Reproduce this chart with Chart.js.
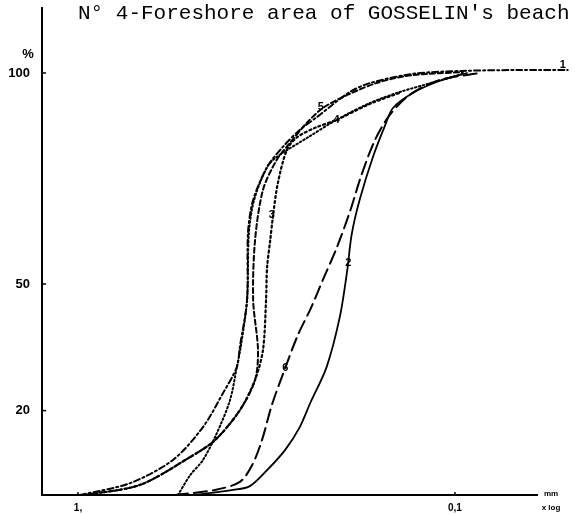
<!DOCTYPE html>
<html>
<head>
<meta charset="utf-8">
<script src="https://cdn.jsdelivr.net/npm/chart.js@4.4.0/dist/chart.umd.min.js"></script>
<style>
body { margin: 0; background: #fff; }
canvas { display: block; }
</style>
</head>
<body>
<canvas id="grain-chart" width="576" height="515"></canvas>
<script>
// grain size in mm (log axis, coarse on the left) and cumulative weight in %
var size1 = [0.988, 0.728, 0.560, 0.466, 0.412, 0.379, 0.372, 0.356, 0.354, 0.343, 0.315, 0.286, 0.258, 0.232, 0.190, 0.168, 0.129, 0.0953, 0.0672, 0.0502];
var pct1 = [0, 2.8, 8.3, 16.1, 24.2, 30.3, 35.1, 46.2, 62.1, 69.9, 77.7, 82.5, 86.5, 89.6, 95.5, 97.6, 99.8, 100.5, 100.7, 100.7];

var size2 = [0.489, 0.388, 0.350, 0.315, 0.282, 0.258, 0.242, 0.219, 0.202, 0.193, 0.188, 0.179, 0.165, 0.153, 0.146, 0.129, 0.110, 0.0929];
var pct2 = [0, 1.2, 2.1, 5.9, 10.7, 16.1, 21.8, 30.3, 42.2, 53.3, 61.6, 69.9, 80.1, 87.7, 91.7, 95.3, 98.1, 100];

var size3 = [0.958, 0.685, 0.504, 0.433, 0.372, 0.339, 0.323, 0.317, 0.315, 0.309, 0.304, 0.295, 0.279, 0.262, 0.235, 0.206, 0.168, 0.140];
var pct3 = [0, 2.4, 9.0, 13.0, 20.1, 27.3, 34.4, 46.2, 54.0, 60.4, 65.9, 73.9, 81.8, 84.8, 87.0, 88.9, 92.7, 95.3];

var size4 = [0.543, 0.504, 0.466, 0.428, 0.395, 0.379, 0.370, 0.356, 0.352, 0.341, 0.315, 0.297, 0.247, 0.206, 0.168, 0.140, 0.116, 0.0953];
var pct4 = [0, 4.7, 8.3, 14.7, 22.5, 30.3, 35.1, 46.2, 62.1, 69.9, 77.7, 80.1, 84.6, 88.9, 92.9, 95.5, 97.6, 99.8];

var size5 = [0.958, 0.685, 0.504, 0.433, 0.372, 0.339, 0.333, 0.343, 0.339, 0.323, 0.297, 0.274, 0.247, 0.224, 0.193, 0.158, 0.129, 0.0953];
var pct5 = [0, 2.4, 9.0, 13.0, 20.1, 27.3, 34.4, 46.2, 60.4, 72.3, 79.4, 83.4, 88.2, 91.7, 94.8, 97.9, 99.5, 100.2];

var size6 = [0.553, 0.433, 0.372, 0.345, 0.325, 0.306, 0.282, 0.261, 0.241, 0.223, 0.206, 0.190, 0.177, 0.163, 0.149, 0.132, 0.110, 0.0858];
var pct6 = [0, 1.2, 3.1, 7.1, 13.0, 21.3, 30.1, 37.9, 44.3, 51.4, 58.5, 67.1, 75.8, 84.1, 90.0, 94.8, 98.3, 100];

var curveNames = ["1", "2", "3", "4", "5", "6"];
var yTicks = [20, 50, 100];
var xTicks = [1, 0.1];
var xTickLabels = ["1,", "0,1"];
var titleText = "N° 4-Foreshore area of GOSSELIN's beach";

var xMin = 0.0489, xMax = 1.246, xAxisEnd = 0.0602;

function toPoints(sizes, pcts) {
	var pts = [];
	for (var i = 0; i < sizes.length; i++) {
		pts.push({ x: sizes[i], y: pcts[i] });
	}
	return pts;
}

function curve(sizes, pcts, dash, width, tagIndex, tagDx, tagDy) {
	return {
		data: toPoints(sizes, pcts),
		borderColor: "#000",
		borderWidth: width,
		borderDash: dash,
		borderCapStyle: "round",
		pointRadius: 0,
		tension: 0.3,
		fill: false,
		tagIndex: tagIndex,
		tagDx: tagDx,
		tagDy: tagDy
	};
}

function noPadding(scale) {
	scale.paddingTop = 0;
	scale.paddingBottom = 0;
	scale.paddingLeft = 0;
	scale.paddingRight = 0;
}

// axis lines, small ticks, curve numbers and the typed heading
var decorations = {
	id: "decorations",
	afterDraw: function(chart) {
		var ctx = chart.ctx;
		var area = chart.chartArea;
		var xs = chart.scales.x;
		var ys = chart.scales.y;
		ctx.save();
		ctx.strokeStyle = "#000";
		ctx.fillStyle = "#000";

		ctx.lineWidth = 2;
		ctx.beginPath();
		ctx.moveTo(area.left, area.bottom);
		ctx.lineTo(xs.getPixelForValue(xAxisEnd), area.bottom);
		ctx.stroke();

		ctx.lineWidth = 1.5;
		yTicks.forEach(function(v) {
			var py = ys.getPixelForValue(v);
			ctx.beginPath();
			ctx.moveTo(area.left, py);
			ctx.lineTo(area.left + 4, py);
			ctx.stroke();
		});
		xTicks.forEach(function(v) {
			var px = xs.getPixelForValue(v);
			ctx.beginPath();
			ctx.moveTo(px, area.bottom);
			ctx.lineTo(px, area.bottom - 3);
			ctx.stroke();
		});

		ctx.font = "bold 11px 'Liberation Sans'";
		ctx.textAlign = "center";
		ctx.textBaseline = "middle";
		chart.data.datasets.forEach(function(ds, i) {
			var pt = chart.getDatasetMeta(i).data[ds.tagIndex];
			ctx.fillText(curveNames[i], pt.x + ds.tagDx, pt.y + ds.tagDy);
		});

		ctx.font = "bold 13px 'Liberation Sans'";
		ctx.fillText("%", 28, 54);
		ctx.font = "bold 8px 'Liberation Sans'";
		ctx.fillText("mm", 551, 494);
		ctx.fillText("x log", 551, 508);

		ctx.font = "21px 'Liberation Mono'";
		ctx.textAlign = "left";
		ctx.textBaseline = "alphabetic";
		ctx.fillText(titleText, 78, 19);
		ctx.restore();
	}
};

var chart = new Chart(document.getElementById("grain-chart"), {
	type: "line",
	data: {
		datasets: [
			curve(size1, pct1, [6, 3, 2, 3], 2, 19, -5, -5),
			curve(size2, pct2, [], 1.8, 9, 1, -7),
			curve(size3, pct3, [2, 3], 2.2, 10, -1, -2),
			curve(size4, pct4, [1.5, 2.5], 2, 13, 0, 0),
			curve(size5, pct5, [5, 3], 2, 13, -2, -1),
			curve(size6, pct6, [13, 6], 2, 6, 0, 0)
		]
	},
	options: {
		responsive: false,
		animation: false,
		layout: { padding: { top: 8, right: 4, left: 0, bottom: 0 } },
		plugins: {
			legend: { display: false },
			tooltip: { enabled: false },
			title: { display: false }
		},
		scales: {
			x: {
				type: "logarithmic",
				reverse: true,
				min: xMin,
				max: xMax,
				grid: { display: false, drawTicks: false },
				border: { display: false },
				afterBuildTicks: function(scale) {
					scale.ticks = xTicks.map(function(v) { return { value: v }; });
				},
				afterFit: function(scale) {
					scale.height = 20;
					noPadding(scale);
				},
				ticks: {
					color: "#000",
					padding: 7,
					maxRotation: 0,
					autoSkip: false,
					font: { family: "'Liberation Sans'", size: 10, weight: "bold" },
					callback: function(value) {
						var k = xTicks.indexOf(value);
						return k >= 0 ? xTickLabels[k] : "";
					}
				}
			},
			y: {
				type: "linear",
				min: 0,
				max: 115.4,
				grid: { display: false, drawTicks: false },
				border: { display: true, color: "#000", width: 2 },
				afterBuildTicks: function(scale) {
					scale.ticks = yTicks.map(function(v) { return { value: v }; });
				},
				afterFit: function(scale) {
					scale.width = 42;
					noPadding(scale);
				},
				ticks: {
					color: "#000",
					padding: 12,
					autoSkip: false,
					font: { family: "'Liberation Sans'", size: 13, weight: "bold" }
				}
			}
		}
	},
	plugins: [decorations]
});
</script>
</body>
</html>
